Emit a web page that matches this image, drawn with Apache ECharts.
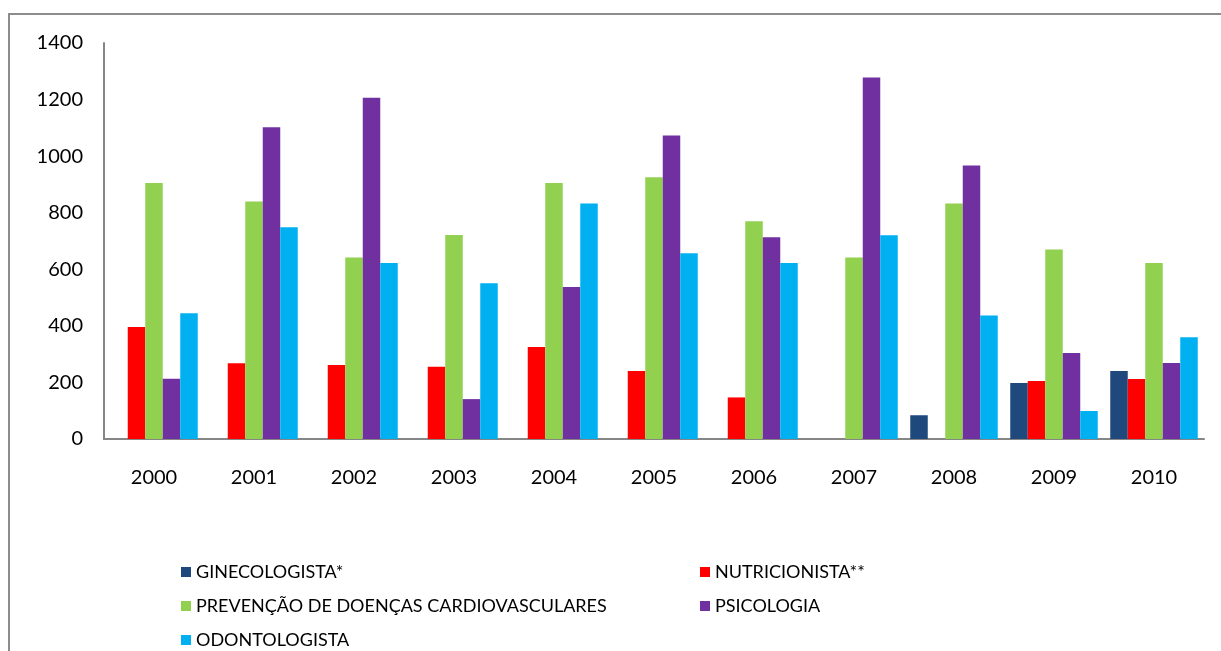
<!DOCTYPE html>
<html>
<head>
<meta charset="utf-8">
<script src="https://cdn.jsdelivr.net/npm/echarts@6/dist/echarts.min.js"></script>
<style>
html,body{margin:0;padding:0;background:#fff;}
#chart{width:1221px;height:651px;}
</style>
</head>
<body>
<div id="chart"></div>
<script>
const years = ['2000','2001','2002','2003','2004','2005','2006','2007','2008','2009','2010'];
const seriesNames = ['GINECOLOGISTA*','NUTRICIONISTA**','PREVENÇÃO DE DOENÇAS CARDIOVASCULARES','PSICOLOGIA','ODONTOLOGISTA'];
const ginecologista = [0,0,0,0,0,0,0,0,84,198,240];
const nutricionista = [396,268,262,255,325,240,147,0,0,205,212];
const prevencao = [905,840,642,721,905,925,770,642,833,670,622];
const psicologia = [213,1102,1206,141,537,1073,713,1278,967,304,269];
const odontologista = [445,749,622,551,833,657,622,720,437,99,360];
const yTicks = {min:0, max:1400, interval:200};
const colors = ['#1F497D','#FF0000','#92D050','#7030A0','#00B0F0'];

const allValues = [ginecologista, nutricionista, prevencao, psicologia, odontologista];
const FONT = 'Lato';

const chart = echarts.init(document.getElementById('chart'));

const legendPos = [
  {left:181, top:563},
  {left:700, top:563},
  {left:181, top:597},
  {left:700, top:597},
  {left:181, top:631}
];

chart.setOption({
  animation:false,
  backgroundColor:'#fff',
  textStyle:{fontFamily:FONT},
  graphic:[{
    type:'rect',
    shape:{x:9, y:14, width:1400, height:800},
    style:{fill:'none', stroke:'#8c8c8c', lineWidth:2},
    silent:true
  }],
  grid:{left:104, top:43, width:1100, height:396, containLabel:false},
  legend: seriesNames.map((n,i)=>({
    data:[n],
    left:legendPos[i].left,
    top:legendPos[i].top,
    padding:0,
    icon:'rect',
    itemWidth:10,
    itemHeight:10,
    itemGap:6,
    selectedMode:false,
    textStyle:{fontFamily:FONT, fontSize:18, color:'#000', padding:[0,0,0,0]}
  })),
  xAxis:{
    type:'category',
    data:years,
    axisLine:{show:true, lineStyle:{color:'#868686', width:2}},
    axisTick:{show:false},
    axisLabel:{fontFamily:FONT, fontSize:20, color:'#000', margin:29}
  },
  yAxis:{
    type:'value',
    min:yTicks.min, max:yTicks.max, interval:yTicks.interval,
    axisLine:{show:true, lineStyle:{color:'#868686', width:2}},
    axisTick:{show:false},
    splitLine:{show:false},
    axisLabel:{fontFamily:FONT, fontSize:20, color:'#000', margin:21, formatter:(v)=>String(v)}
  },
  series: seriesNames.map((n,i)=>({
    name:n,
    type:'bar',
    data:allValues[i],
    barGap:'0%',
    barCategoryGap:'12.5%',
    itemStyle:{color:colors[i]}
  }))
});
</script>
</body>
</html>
